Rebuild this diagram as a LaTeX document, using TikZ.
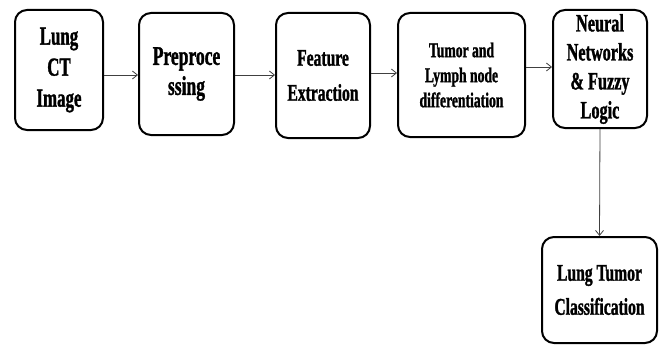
\documentclass[tikz,border=0pt]{standalone}
\usepackage{fontspec}
\setmainfont{Liberation Serif}[FakeStretch=0.65, BoldFeatures={FakeBold=1.2}]
\usetikzlibrary{arrows.meta,calc}
\tikzset{
  stage/.style={draw=black, line width=2pt, rounded corners=12pt, fill=white,
    align=center, inner sep=1pt, font=\bfseries},
  flow/.style={draw=black!75, line width=0.8pt, -{Straight Barb[length=5pt,width=8pt]}},
}
\begin{document}
\begin{tikzpicture}[x=1pt,y=-1pt]
  \useasboundingbox (0,0) rectangle (662,345);
  \fill[white] (0,0) rectangle (662,345);

  % processing stages
  \node[stage, minimum width=88pt, minimum height=120pt,
        font=\bfseries\fontsize{26}{31}\selectfont] (ct) at (59,70)
        {Lung\\CT\\Image};
  \node[stage, minimum width=95pt, minimum height=122pt,
        font=\bfseries\fontsize{27}{30}\selectfont] (pre) at (186.5,74)
        {Preproce\\ssing};
  \node[stage, minimum width=94pt, minimum height=125pt,
        font=\bfseries\fontsize{24}{35}\selectfont] (feat) at (323,75.5)
        {Feature\\Extraction};
  \node[stage, minimum width=127pt, minimum height=124pt,
        font=\bfseries\fontsize{21}{25}\selectfont] (diff) at (461.5,75)
        {Tumor and\\Lymph node\\differentiation};
  \node[stage, minimum width=94pt, minimum height=118pt,
        font=\bfseries\fontsize{25}{29}\selectfont] (nn) at (600,69)
        {Neural\\Networks\\\& Fuzzy\\Logic};
  \node[stage, minimum width=115pt, minimum height=106pt,
        font=\bfseries\fontsize{24}{34}\selectfont] (cls) at (599.5,290)
        {Lung Tumor\\Classification};

  % arrow heights
  \coordinate (r1) at (0,75);
  \coordinate (r2) at (0,75);
  \coordinate (r3) at (0,73);
  \coordinate (r4) at (0,67);

  \draw[flow] (ct.east |- r1) -- (pre.west |- r1);
  \draw[flow] (pre.east |- r2) -- (feat.west |- r2);
  \draw[flow] (feat.east |- r3) -- (diff.west |- r3);
  \draw[flow] (diff.east |- r4) -- (nn.west |- r4);
  \draw[flow] (nn.south) -- (cls.north);
\end{tikzpicture}
\end{document}
